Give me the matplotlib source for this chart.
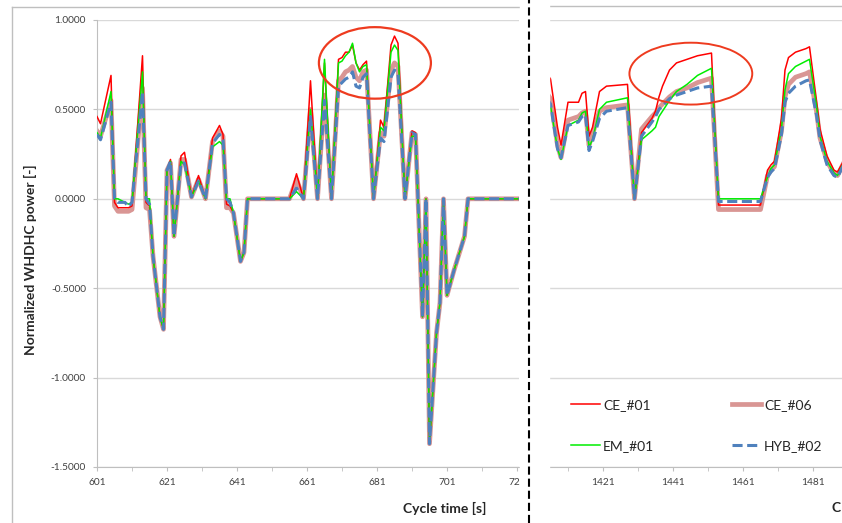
import numpy as np
import matplotlib.pyplot as plt
from matplotlib.lines import Line2D
from matplotlib.patches import Ellipse, Rectangle
from matplotlib.ticker import FormatStrFormatter, MultipleLocator

plt.rcParams['font.family'] = ['Lato', 'DejaVu Sans']
plt.rcParams['axes.unicode_minus'] = False

# --- left window: cycle time 601..721 s
t_left = [601, 602, 605, 606, 607, 609, 610, 611, 614, 615, 616, 617, 619, 620, 621, 622, 623, 624, 625, 626,
          628, 630, 632, 634, 636, 637, 638, 639, 640, 642, 643, 644, 656, 658, 660, 662, 664, 666, 668, 670,
          671, 672, 673, 674, 675, 676, 677, 678, 680, 682, 683, 685, 686, 687, 689, 691, 692, 694, 695, 696,
          698, 699, 700, 701, 703, 706, 707, 722]

hyb02_left = [0.36, 0.33, 0.54, 0.0, -0.02, -0.02, -0.045, -0.02, 0.60, 0.0, -0.03, -0.32, -0.66, -0.73, 0.16, 0.21, -0.21, 0.0, 0.20, 0.20,
              0.01, 0.10, 0.0, 0.31, 0.36, 0.33, 0.0, -0.02, -0.08, -0.35, -0.30, 0.0, 0.0, 0.06, 0.0, 0.46, 0.0, 0.55, 0.0, 0.63,
              0.65, 0.67, 0.68, 0.71, 0.63, 0.62, 0.68, 0.70, 0.0, 0.34, 0.32, 0.68, 0.72, 0.70, 0.0, 0.37, 0.36, -0.66, 0.0, -1.37,
              -0.75, -0.58, 0.0, -0.54, -0.40, -0.21, 0.0, 0.0]
em01_left = [0.37, 0.34, 0.60, 0.0, 0.0, -0.02, -0.03, -0.02, 0.71, 0.0, 0.0, -0.32, -0.66, -0.73, 0.16, 0.21, -0.21, 0.0, 0.21, 0.19,
             0.01, 0.10, 0.0, 0.29, 0.32, 0.30, 0.0, 0.0, -0.08, -0.35, -0.30, 0.0, 0.0, 0.04, 0.0, 0.50, 0.0, 0.78, 0.0, 0.76,
             0.77, 0.80, 0.82, 0.87, 0.76, 0.71, 0.74, 0.75, 0.0, 0.40, 0.38, 0.82, 0.86, 0.83, 0.0, 0.35, 0.35, -0.66, 0.0, -1.37,
             -0.75, -0.58, 0.0, -0.54, -0.40, -0.21, 0.0, 0.0]
ce01_left = [0.46, 0.42, 0.69, -0.02, -0.05, -0.05, -0.05, -0.04, 0.80, -0.02, -0.04, -0.32, -0.66, -0.73, 0.16, 0.22, -0.21, 0.0, 0.24, 0.26,
             0.01, 0.13, 0.0, 0.34, 0.41, 0.36, -0.03, -0.04, -0.08, -0.35, -0.30, 0.0, 0.0, 0.14, 0.0, 0.66, 0.0, 0.76, 0.0, 0.78,
             0.79, 0.82, 0.82, 0.86, 0.76, 0.72, 0.75, 0.77, 0.0, 0.44, 0.40, 0.86, 0.91, 0.87, 0.0, 0.38, 0.37, -0.66, 0.0, -1.37,
             -0.75, -0.58, 0.0, -0.54, -0.40, -0.21, 0.0, 0.0]
ce06_left = [0.38, 0.35, 0.55, -0.04, -0.07, -0.07, -0.07, -0.06, 0.62, -0.05, -0.06, -0.32, -0.66, -0.73, 0.16, 0.20, -0.21, 0.0, 0.22, 0.22,
             0.01, 0.11, 0.0, 0.32, 0.38, 0.35, -0.05, -0.05, -0.08, -0.35, -0.30, 0.0, 0.0, 0.11, 0.0, 0.50, 0.0, 0.58, 0.0, 0.66,
             0.68, 0.71, 0.72, 0.74, 0.68, 0.66, 0.71, 0.72, 0.0, 0.37, 0.35, 0.72, 0.76, 0.74, 0.0, 0.37, 0.36, -0.66, 0.0, -1.37,
             -0.75, -0.58, 0.0, -0.54, -0.40, -0.21, 0.0, 0.0]

# --- right window: cycle time ~1405..1489 s
t_right = [1405, 1406, 1408, 1409, 1411, 1414, 1415, 1416, 1417, 1418, 1420, 1422, 1428, 1430, 1432, 1435, 1436, 1437, 1438, 1440,
           1442, 1445, 1448, 1452, 1454, 1466, 1468, 1469, 1470, 1472, 1473, 1474, 1476, 1479, 1480, 1482, 1483, 1485, 1487, 1488, 1490]

ce01_right = [0.70, 0.67, 0.40, 0.30, 0.54, 0.54, 0.59, 0.60, 0.35, 0.40, 0.60, 0.63, 0.64, 0.0, 0.37, 0.45, 0.49, 0.57, 0.63, 0.72,
              0.76, 0.78, 0.80, 0.815, -0.035, -0.035, 0.16, 0.19, 0.21, 0.45, 0.72, 0.79, 0.82, 0.84, 0.85, 0.55, 0.39, 0.24, 0.16, 0.15, 0.22]
em01_right = [0.55, 0.52, 0.28, 0.22, 0.41, 0.44, 0.48, 0.49, 0.29, 0.33, 0.50, 0.54, 0.565, 0.0, 0.33, 0.38, 0.40, 0.46, 0.49, 0.55,
              0.60, 0.64, 0.69, 0.73, 0.0, 0.0, 0.12, 0.17, 0.19, 0.39, 0.61, 0.70, 0.74, 0.77, 0.78, 0.52, 0.35, 0.21, 0.145, 0.13, 0.21]
ce06_right = [0.59, 0.56, 0.30, 0.23, 0.44, 0.46, 0.48, 0.49, 0.30, 0.36, 0.49, 0.51, 0.525, 0.0, 0.39, 0.46, 0.48, 0.51, 0.53, 0.57,
              0.60, 0.62, 0.65, 0.675, -0.06, -0.06, 0.13, 0.16, 0.18, 0.38, 0.57, 0.64, 0.68, 0.70, 0.71, 0.49, 0.34, 0.21, 0.14, 0.13, 0.21]
hyb02_right = [0.56, 0.53, 0.28, 0.23, 0.41, 0.43, 0.46, 0.47, 0.27, 0.32, 0.45, 0.49, 0.51, 0.0, 0.35, 0.43, 0.46, 0.50, 0.52, 0.56,
               0.58, 0.60, 0.62, 0.63, -0.015, -0.015, 0.12, 0.15, 0.17, 0.36, 0.54, 0.59, 0.63, 0.66, 0.665, 0.47, 0.33, 0.19, 0.13, 0.12, 0.20]

W, H = 842, 523
fig = plt.figure(figsize=(W / 100, H / 100), dpi=100)


def px_box(x0, x1, ytop, ybot):
    return [x0 / W, 1 - ybot / H, (x1 - x0) / W, (ybot - ytop) / H]


ax1 = fig.add_axes(px_box(97, 519, 20, 467))
ax2 = fig.add_axes(px_box(549, 842, 20, 467))

grid_c = '#D9D9D9'
axis_c = '#BFBFBF'
text_c = '#404040'

handles = {}
for ax, t, ce01, ce06, em01, hyb in [(ax1, t_left, ce01_left, ce06_left, em01_left, hyb02_left),
                                     (ax2, t_right, ce01_right, ce06_right, em01_right, hyb02_right)]:
    handles['CE_#06'], = ax.plot(t, ce06, color='#D99694', lw=3.4, zorder=2, solid_joinstyle='round')
    handles['CE_#01'], = ax.plot(t, ce01, color='#FF0000', lw=1.1, zorder=3)
    handles['EM_#01'], = ax.plot(t, em01, color='#00EE00', lw=1.1, zorder=4)
    handles['HYB_#02'], = ax.plot(t, hyb, color='#4F81BD', lw=2.2, dashes=(3.3, 1.5), zorder=5)
    ax.set_ylim(-1.5, 1.0)
    ax.yaxis.set_major_locator(MultipleLocator(0.5))
    ax.yaxis.set_major_formatter(FormatStrFormatter('%.4f'))
    ax.grid(axis='y', color=grid_c, lw=1)
    ax.set_axisbelow(True)
    for s in ['top', 'right']:
        ax.spines[s].set_visible(False)
    for s in ['left', 'bottom']:
        ax.spines[s].set_color(axis_c)
    ax.tick_params(which='both', direction='out', length=3, color=axis_c,
                   labelsize=7.3, labelcolor=text_c, pad=5)

ax1.set_xlim(601, 721.57)
ax1.set_xticks(np.arange(601, 722, 20))
ax1.set_xticks(np.arange(611, 722, 20), minor=True)

ax2.set_xlim(1405.57, 1489.29)
ax2.set_xticks(np.arange(1421, 1490, 20))
ax2.set_xticks(np.arange(1411, 1490, 20), minor=True)
ax2.spines['left'].set_visible(False)
ax2.tick_params(axis='y', length=0, labelleft=False)

# highlight ellipses
ax1.add_patch(Ellipse((680.4, 0.76), 32, 0.40, fill=False, ec='#EE3B1F', lw=1.6, clip_on=False, zorder=6))
ax2.add_patch(Ellipse((1446.1, 0.70), 35.1, 0.346, fill=False, ec='#EE3B1F', lw=1.4, clip_on=False, zorder=6))

order = ['CE_#01', 'EM_#01', 'CE_#06', 'HYB_#02']
ax2.legend([handles[k] for k in order], order, ncol=2, loc='upper left',
           bbox_to_anchor=(571 / W, 1 - 399 / H), bbox_transform=fig.transFigure,
           frameon=False, fontsize=10, handlelength=2.1, handletextpad=0.2,
           columnspacing=5.6, labelspacing=2.1, borderpad=0, borderaxespad=0,
           labelcolor='#262626')

# axis titles
fig.text(30 / W, 1 - 260 / H, 'Normalized WHDHC power [-]', rotation=90, ha='center', va='center',
         fontsize=10, fontweight='bold', color='#262626')
fig.text(445 / W, 1 - 508 / H, 'Cycle time [s]', ha='center', va='center',
         fontsize=10, fontweight='bold', color='#262626')
# only the first letter of the right chart's axis title is inside the crop
fig.text(841 / W, 1 - 508 / H, 'C', ha='right', va='center',
         fontsize=10, fontweight='bold', color='#262626')

# chart frames of the two cropped charts
fig.add_artist(Line2D([12 / W, 12 / W], [0, 1 - 6.5 / H], color=axis_c, lw=1, transform=fig.transFigure))
fig.add_artist(Line2D([12 / W, 520 / W], [1 - 6.5 / H, 1 - 6.5 / H], color=axis_c, lw=1, transform=fig.transFigure))
fig.add_artist(Line2D([549 / W, 1], [1 - 6 / H, 1 - 6 / H], color=axis_c, lw=1, transform=fig.transFigure))

# crop strip and separator between the two windows
fig.add_artist(Rectangle((520 / W, 0), 28.5 / W, 1, transform=fig.transFigure, color='white', zorder=9))
fig.add_artist(Line2D([529 / W, 529 / W], [0, 1], color='black', lw=1.5, dashes=(3.9, 1.9),
                      transform=fig.transFigure, zorder=10))

fig.savefig('out.png', dpi=100)
